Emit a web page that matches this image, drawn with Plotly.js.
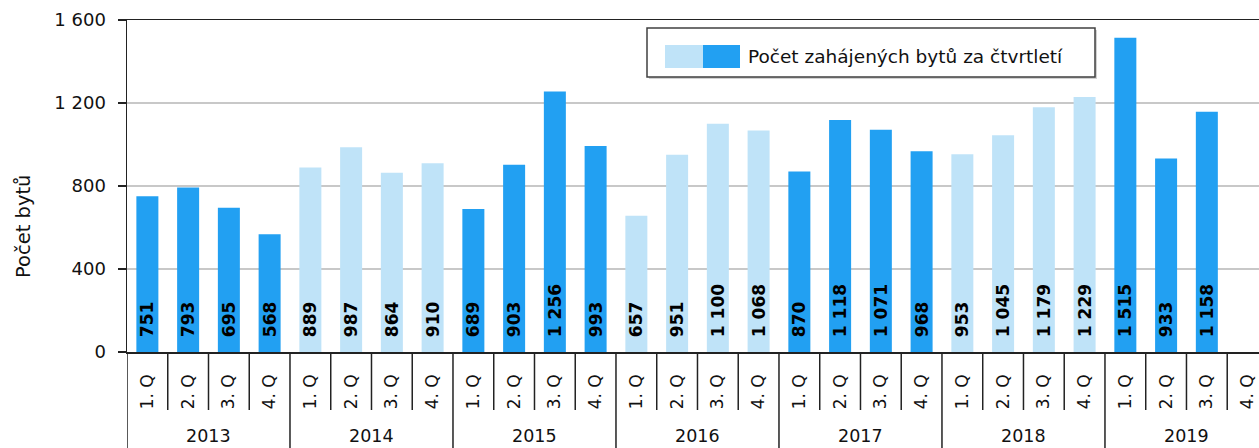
<!DOCTYPE html>
<html>
<head>
<meta charset="utf-8">
<script src="https://cdn.plot.ly/plotly-3.0.1.min.js"></script>
<style>html,body{margin:0;padding:0;background:#fff;}#chart{width:1259px;height:448px;}</style>
</head>
<body>
<div id="chart"></div>
<script>
const years = ['2013', '2014', '2015', '2016', '2017', '2018', '2019'];
const quarters = ['1. Q', '2. Q', '3. Q', '4. Q'];
const values2013 = [751, 793, 695, 568];
const values2014 = [889, 987, 864, 910];
const values2015 = [689, 903, 1256, 993];
const values2016 = [657, 951, 1100, 1068];
const values2017 = [870, 1118, 1071, 968];
const values2018 = [953, 1045, 1179, 1229];
const values2019 = [1515, 933, 1158, null];
const yTickVals = [0, 400, 800, 1200, 1600];
const seriesName = 'Počet zahájených bytů za čtvrtletí';
const yTitle = 'Počet bytů';

const valuesByYear = [values2013, values2014, values2015, values2016, values2017, values2018, values2019];
const darkBlue = '#22a0f2';
const lightBlue = '#bfe3f8';

const categories = [];
const tickText = [];
const values = [];
const colors = [];
years.forEach((y, yi) => {
  quarters.forEach((q, qi) => {
    categories.push(y + ' ' + q);
    tickText.push(q);
    values.push(valuesByYear[yi][qi]);
    colors.push(yi % 2 === 0 ? darkBlue : lightBlue);
  });
});

// pixel helpers for the plot area (left 127, right 1259, top 20, bottom 352)
const L = 127, R = 1259, T = 20, B = 352;
const px2x = p => (p - L) / (R - L);
const px2y = p => (B - p) / (B - T);

const shapes = [];
for (let k = 0; k <= categories.length; k++) {
  const isYear = k % quarters.length === 0;
  shapes.push({
    type: 'line', xref: 'x', yref: 'paper',
    x0: k - 0.5, x1: k - 0.5, y0: 0, y1: isYear ? px2y(448) : px2y(410),
    line: {color: '#222', width: 1.5}, layer: 'above'
  });
}
// legend box
shapes.push({type: 'rect', xref: 'paper', yref: 'paper', x0: px2x(649), x1: px2x(1097), y0: px2y(30), y1: px2y(79),
  line: {width: 0}, fillcolor: 'rgba(0,0,0,0.18)', layer: 'above'});
shapes.push({type: 'rect', xref: 'paper', yref: 'paper', x0: px2x(647), x1: px2x(1095), y0: px2y(28), y1: px2y(77),
  line: {color: '#404040', width: 1.5}, fillcolor: '#fff', layer: 'above'});
shapes.push({type: 'rect', xref: 'paper', yref: 'paper', x0: px2x(665), x1: px2x(703), y0: px2y(45), y1: px2y(68),
  line: {width: 0}, fillcolor: lightBlue, layer: 'above'});
shapes.push({type: 'rect', xref: 'paper', yref: 'paper', x0: px2x(703), x1: px2x(740), y0: px2y(45), y1: px2y(68),
  line: {width: 0}, fillcolor: darkBlue, layer: 'above'});

const annotations = years.map((y, yi) => ({
  text: y, xref: 'x', yref: 'paper', x: yi * 4 + 1.5, y: px2y(436),
  xanchor: 'center', yanchor: 'middle', showarrow: false,
  font: {family: 'DejaVu Sans', size: 17.5, color: '#111'}
}));
annotations.push({
  text: yTitle, xref: 'paper', yref: 'paper', x: px2x(23), y: px2y(227), textangle: -90,
  xanchor: 'center', yanchor: 'middle', showarrow: false,
  font: {family: 'DejaVu Sans', size: 19.5, color: '#111'}
});
annotations.push({
  text: seriesName, xref: 'paper', yref: 'paper', x: px2x(746), y: px2y(56),
  xanchor: 'left', yanchor: 'middle', showarrow: false,
  font: {family: 'DejaVu Sans', size: 18.5, color: '#111'}
});

const trace = {
  type: 'bar',
  x: categories,
  y: values,
  marker: {color: colors, line: {width: 0}},
  width: 0.54,
  texttemplate: '\u00a0\u00a0%{y:,}',
  textposition: 'inside',
  insidetextanchor: 'start',
  textangle: -90,
  constraintext: 'none',
  insidetextfont: {family: 'DejaVu Sans', size: 17, color: '#000', weight: 'bold'},
  hoverinfo: 'x+y',
  showlegend: false,
  cliponaxis: false
};

const layout = {
  width: 1259, height: 448,
  margin: {l: L, r: 1259 - R, t: T, b: 448 - B, pad: 0},
  paper_bgcolor: '#fff', plot_bgcolor: '#fff',
  separators: ', ',
  showlegend: false,
  bargap: 0.46,
  xaxis: {
    type: 'category',
    range: [-0.5, 27.28],
    tickmode: 'array', tickvals: categories, ticktext: tickText,
    tickangle: -90,
    ticks: '', ticklabelstandoff: 14,
    tickfont: {family: 'DejaVu Sans', size: 17, color: '#111'},
    showline: true, linecolor: '#222', linewidth: 1.5, mirror: true,
    showgrid: false, zeroline: false, fixedrange: true
  },
  yaxis: {
    range: [0, 1600],
    tickmode: 'array', tickvals: yTickVals,
    separatethousands: true,
    ticks: 'outside', ticklen: 8, tickwidth: 1.5, tickcolor: '#222',
    ticklabelstandoff: 8,
    tickfont: {family: 'DejaVu Sans', size: 18, color: '#111'},
    showline: true, linecolor: '#222', linewidth: 1.5,
    showgrid: true, gridcolor: '#c8c8c8', gridwidth: 1.5,
    zeroline: false, fixedrange: true
  },
  shapes: shapes,
  annotations: annotations
};

Plotly.newPlot('chart', [trace], layout, {displayModeBar: false, staticPlot: true});
</script>
</body>
</html>
